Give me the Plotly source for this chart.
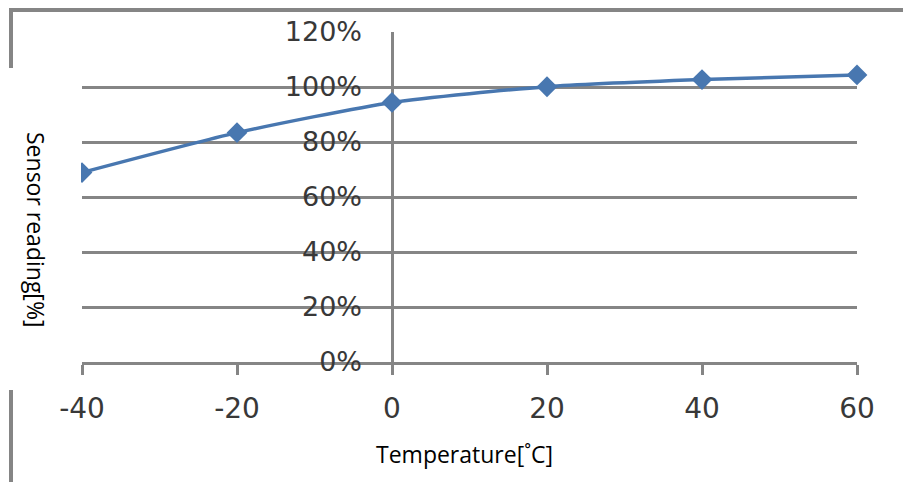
import plotly.graph_objects as go

# Sensor reading vs temperature
temperature = [-40, -20, 0, 20, 40, 60]
reading = [0.689, 0.834, 0.944, 1.001, 1.027, 1.044]

x_ticks = [-40, -20, 0, 20, 40, 60]
y_ticks = [0, 0.2, 0.4, 0.6, 0.8, 1.0, 1.2]
y_tick_text = ["0%", "20%", "40%", "60%", "80%", "100%", "120%"]

W, H = 903, 482
L, R, T, B = 82, 46, 32, 120
PW, PH = W - L - R, H - T - B


def px(x):
    return (x - L) / PW


def py(y):
    return (H - B - y) / PH


grey = "#858585"
ylabel_font = dict(family="DejaVu Sans", size=27, color="#383838")
xlabel_font = dict(family="DejaVu Sans", size=28, color="#383838")
title_font = dict(family="Open Sans", size=23, color="#000000")

fig = go.Figure()
fig.add_trace(go.Scatter(
    x=temperature, y=reading,
    mode="lines+markers",
    line=dict(color="#4877b0", width=3.5, shape="spline", smoothing=0.6),
    marker=dict(symbol="diamond", size=16, color="#4877b0"),
    cliponaxis=False,
    showlegend=False,
))

fig.update_layout(
    width=W, height=H,
    margin=dict(l=L, r=R, t=T, b=B),
    paper_bgcolor="white", plot_bgcolor="white",
    xaxis=dict(
        range=[-40, 60], domain=[0, 1],
        tickvals=x_ticks, ticktext=[str(v) for v in x_ticks],
        showgrid=False,
        zeroline=True, zerolinecolor=grey, zerolinewidth=2.5,
        showline=True, linecolor=grey, linewidth=2.5,
        ticks="outside", ticklen=10, tickwidth=2.5, tickcolor=grey,
        ticklabelstandoff=10,
        tickfont=xlabel_font,
    ),
    yaxis=dict(
        range=[0, 1.2],
        anchor="free", position=px(392),
        tickvals=y_ticks, ticktext=y_tick_text,
        showgrid=True, gridcolor=grey, gridwidth=2.5,
        zeroline=False, showline=False,
        ticks="", ticklabelstandoff=30,
        tickfont=ylabel_font,
    ),
    shapes=[
        # outer frame pieces
        dict(type="line", xref="paper", yref="paper",
             x0=px(10), x1=px(903), y0=py(10), y1=py(10),
             line=dict(color="#858585", width=4)),
        dict(type="line", xref="paper", yref="paper",
             x0=px(11), x1=px(11), y0=py(8), y1=py(68),
             line=dict(color="#858585", width=4)),
        dict(type="line", xref="paper", yref="paper",
             x0=px(11), x1=px(11), y0=py(390), y1=py(482),
             line=dict(color="#858585", width=4)),
        # white panel behind the vertical title
        dict(type="rect", xref="paper", yref="paper", layer="above",
             x0=px(0), x1=px(81), y0=py(68), y1=py(390),
             fillcolor="white", line=dict(width=0)),
    ],
    annotations=[
        dict(text="Sensor reading[%]", xref="paper", yref="paper",
             x=px(36), y=py(229), textangle=90, showarrow=False,
             font=title_font, xanchor="center", yanchor="middle"),
        dict(text="Temperature[˚C]", xref="paper", yref="paper",
             x=px(464), y=py(454), showarrow=False,
             font=title_font, xanchor="center", yanchor="middle"),
    ],
)

fig.write_html("out.html")
